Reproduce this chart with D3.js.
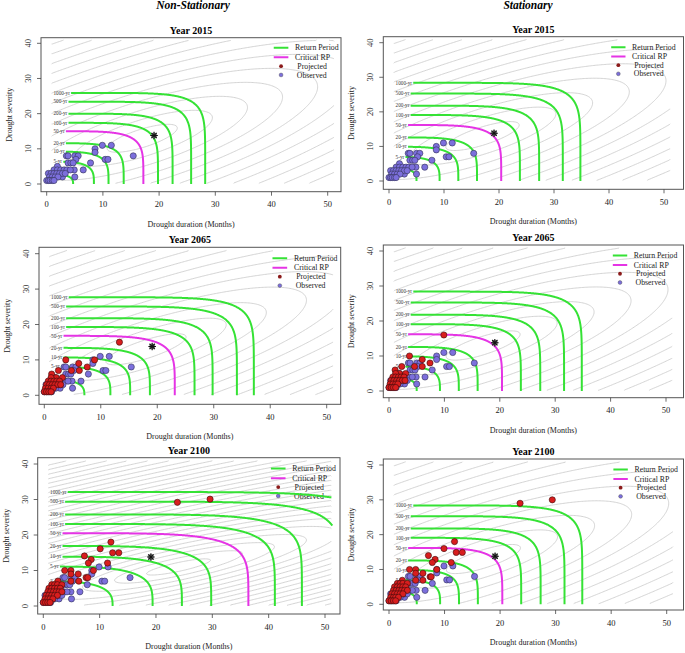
<!DOCTYPE html>
<html><head><meta charset="utf-8">
<script src="https://cdnjs.cloudflare.com/ajax/libs/d3/7.8.5/d3.min.js"></script>
<style>
body{margin:0;background:#fff}
svg{display:block}
text{font-family:"Liberation Serif","Times New Roman",serif}
</style>
</head><body>
<svg id="c" width="685" height="653"></svg>
<script>
// ---------------- DATA ----------------
const columnTitles = ["Non-Stationary", "Stationary"];
const years = ["2015", "2065", "2100"];
const xTicks = [0, 10, 20, 30, 40, 50];
const yTicks = [0, 10, 20, 30, 40];
const rpLabels = ["2-yr", "5-yr", "10-yr", "20-yr", "50-yr", "100-yr", "200-yr", "500-yr", "1000-yr"];
const rpYears = [2, 5, 10, 20, 50, 100, 200, 500, 1000];
const criticalRP = "50-yr";
const legendLabels = ["Return Period", "Critical RP", "Projected", "Observed"];

// severity (flat part) and duration (vertical part) of each return-period curve
const nsSev2015 = [2.8, 6.4, 9.2, 11.6, 15.0, 17.4, 20.0, 23.4, 25.9];
const nsDur2015 = [4.7, 8.4, 11.0, 13.7, 17.2, 19.8, 22.4, 25.7, 28.2];
const nsSev2065 = [4.5, 8.1, 10.7, 13.4, 16.8, 19.3, 21.8, 25.1, 27.7];
const nsDur2065 = [7.1, 11.7, 15.2, 18.7, 23.1, 26.6, 29.8, 34.1, 37.1];
const nsSev2100 = [7.0, 11.1, 13.9, 16.9, 20.5, 23.1, 25.8, 29.4, 32.1];
const nsDur2100 = [12.3, 19.4, 24.6, 29.8, 36.4, 41.1, 45.9, 52.7, 60.3];
const stSev = [3.8, 7.0, 9.9, 12.6, 16.2, 19.1, 21.8, 25.3, 28.4];
const stDur = [5.0, 9.2, 12.6, 16.0, 20.4, 23.8, 27.3, 31.6, 34.8];

const criticalEvent = [19.1, 13.8];

// observed drought events [duration, severity]
const observed = [
  [9.9,11],[11.5,11],[8.6,10],[8.6,9],[15.4,8],[3.5,8],[3.8,8],[5.0,8],[5.6,8],[5.2,7],
  [10.4,7],[10.9,7],[7.8,6],[3.8,6],[4.3,6],[4.7,6],[6.5,4],[4.9,4],[5.0,2],[2.8,2],
  [1.9,5],[1.3,4],[1.9,4],[2.5,4],[3.1,4],[3.6,4],[4.2,4],
  [0.3,3],[0.8,3],[1.3,3],[1.8,3],[2.3,3],[2.8,3],[3.3,3],
  [0.5,2],[1.0,2],[1.5,2],[2.0,2],
  [0.0,1],[0.3,1],[0.6,1],[1.0,1],[1.3,1]
];
// projected drought events [duration, severity]
const projNS2015 = [];
const projST2015 = [];
const projNS2065 = [
  [13.3,15],[3.8,10],[8.9,10],[6.1,9],[7.6,8],[4.8,7],[6.2,7],[2.5,7],[1.3,6],[2.1,5],[3.2,5],[1.2,5],
  [0.7,4],[1.2,4],[1.7,4],[2.2,4],[2.7,4],
  [0.4,3],[0.9,3],[1.4,3],[1.9,3],[2.4,3],[2.9,3],
  [0.2,2],[0.7,2],[1.2,2],[1.6,2],
  [0.0,1],[0.4,1],[0.8,1],[1.2,1]
];
const projST2065 = [
  [9.9,16],[3.7,10],[6.0,9],[7.4,8],[6.0,7],[4.6,7],[2.3,7],[1.1,6],[1.9,5],[3.0,5],[1.2,5],
  [0.7,4],[1.2,4],[1.7,4],[2.2,4],[2.7,4],
  [0.4,3],[0.9,3],[1.4,3],[1.9,3],[2.4,3],[2.9,3],
  [0.2,2],[0.7,2],[1.2,2],[1.6,2],
  [0.0,1],[0.4,1],[0.8,1],[1.2,1]
];
const projNS2100 = [
  [23.8,29.2],[29.6,30.1],[12.0,18],[10.1,16.1],[12.3,15],[13.4,15],[7.3,14.1],[8.5,13.1],[8.0,12.1],[11.4,12.1],
  [3.8,10],[4.9,10],[8.9,10],[4.9,9],[6.2,9],[7.6,8],[7.9,8],[4.9,7],[6.3,7],[2.6,7],
  [1.5,6],[2.0,6],[2.5,6],[3.3,6],
  [1.0,5],[1.5,5],[2.0,5],[2.5,5],[3.0,5],
  [0.8,4],[1.3,4],[1.8,4],[2.3,4],[2.8,4],[3.3,4],
  [0.5,3],[1.0,3],[1.5,3],[2.0,3],[2.5,3],
  [0.3,2],[0.8,2],[1.2,2],[1.7,2],
  [0.0,1],[0.4,1],[0.8,1],[1.2,1]
];
const projST2100 = [
  [23.6,29],[29.4,30],[11.8,18],[9.9,16],[12.1,14.9],[13.2,14.9],[7.1,14],[8.3,12.9],[7.8,12],[11.2,12],
  [3.7,10],[4.8,10],[8.6,10],[4.8,8.9],[6.1,8.9],[7.4,7.9],[7.6,7.9],[4.8,6.9],[6.1,6.9],[2.4,6.9],
  [1.5,6],[2.0,6],[2.5,6],[3.3,6],
  [1.0,5],[1.5,5],[2.0,5],[2.5,5],[3.0,5],
  [0.8,4],[1.3,4],[1.8,4],[2.3,4],[2.8,4],[3.3,4],
  [0.5,3],[1.0,3],[1.5,3],[2.0,3],[2.5,3],
  [0.3,2],[0.8,2],[1.2,2],[1.7,2],
  [0.0,1],[0.4,1],[0.8,1],[1.2,1]
];

// ---------------- LAYOUT ----------------
const panels = [
  {col:0, year:0, sev:nsSev2015, dur:nsDur2015, proj:projNS2015, box:[41,37.7,341,191.7], x0:46.7, x50:327.7, y0:184, y40:43.3,
   bg:{cx:17, cy:13, slope:0.55, a:7, b:2.4, rings:16}},
  {col:1, year:0, sev:stSev, dur:stDur, proj:projST2015, box:[383.3,36.7,683.5,189.3], x0:389, x50:664, y0:181, y40:42.7,
   bg:{cx:17, cy:13, slope:0.55, a:7.5, b:2.4, rings:16}},
  {col:0, year:1, sev:nsSev2065, dur:nsDur2065, proj:projNS2065, box:[39,247.3,340.7,404.3], x0:44.3, x50:326.7, y0:395.3, y40:253.7,
   bg:{cx:18, cy:13, slope:0.55, a:8, b:2.4, rings:16}},
  {col:1, year:1, sev:stSev, dur:stDur, proj:projST2065, box:[383.3,245,683.5,397.7], x0:389, x50:666, y0:391, y40:251,
   bg:{cx:17, cy:13, slope:0.55, a:7.5, b:2.4, rings:16}},
  {col:0, year:2, sev:nsSev2100, dur:nsDur2100, proj:projNS2100, box:[37.7,457.7,340,614], x0:43.3, x50:325, y0:606, y40:464,
   bg:{cx:24, cy:11, slope:0.35, a:6, b:1.2, rings:32}},
  {col:1, year:2, sev:stSev, dur:stDur, proj:projST2100, box:[383.3,459,683.5,610], x0:389, x50:666.7, y0:604.3, y40:465,
   bg:{cx:17, cy:13, slope:0.55, a:7.5, b:2.4, rings:16}}
];

const GREEN = "#35e235", MAGENTA = "#e534e5", RED = "#d81e1e", PURPLE = "#7c6fdc";
const svg = d3.select("#c");

svg.append("text").attr("x",193).attr("y",9).attr("text-anchor","middle")
  .attr("font-size",11.5).attr("font-weight","bold").attr("font-style","italic").text(columnTitles[0]);
svg.append("text").attr("x",528).attr("y",9).attr("text-anchor","middle")
  .attr("font-size",11.5).attr("font-weight","bold").attr("font-style","italic").text(columnTitles[1]);

function rpShape(T){ return 2.5 + 1.6*Math.log10(T); }

panels.forEach((P, pi) => {
  const [bl, bt, br, bb] = P.box;
  const xs = d3.scaleLinear().domain([0,50]).range([P.x0, P.x50]);
  const ys = d3.scaleLinear().domain([0,40]).range([P.y0, P.y40]);
  const g = svg.append("g");
  const clipId = "clip"+pi;
  svg.append("clipPath").attr("id",clipId).append("rect")
    .attr("x",bl).attr("y",bt).attr("width",br-bl).attr("height",bb-bt);
  const inner = g.append("g").attr("clip-path",`url(#${clipId})`);

  // --- background gray contours ---
  const bg = P.bg;
  const gx1=1, gx2=51, gy1=0.3, gy2=40.7, step=0.25;
  const n = Math.round((gx2-gx1)/step)+1, m = Math.round((gy2-gy1)/step)+1;
  const th = Math.atan(bg.slope), ct=Math.cos(th), st=Math.sin(th);
  const vals = new Float64Array(n*m);
  for (let j=0;j<m;j++){ const y=gy1+j*step;
    for (let i=0;i<n;i++){ const x=gx1+i*step;
      const dx=x-bg.cx, dy=y-bg.cy; const u=dx*ct+dy*st, v=-dx*st+dy*ct;
      vals[j*n+i] = -Math.sqrt((u/bg.a)**2 + (v/bg.b)**2);
    }}
  const thresholds = d3.range(1, bg.rings+1).map(k=>-k);
  const cont = d3.contours().size([n,m]).thresholds(thresholds)(vals);
  const X = p => xs(gx1 + (p[0]-0.5)*step), Y = p => ys(gy1 + (p[1]-0.5)*step);
  const onB = p => p[0]<=1e-6 || p[0]>=n-1e-6 || p[1]<=1e-6 || p[1]>=m-1e-6;
  cont.forEach(c => {
    let d = "";
    c.coordinates.forEach(poly => poly.forEach(ring => {
      let pen=false;
      for (let k=0;k<ring.length-1;k++){
        const p=ring[k], q=ring[k+1];
        if (onB(p) && onB(q)) { pen=false; continue; }
        if (!pen){ d += `M${X(p).toFixed(2)},${Y(p).toFixed(2)}`; pen=true; }
        d += `L${X(q).toFixed(2)},${Y(q).toFixed(2)}`;
      }
    }));
    inner.append("path").attr("d",d).attr("fill","none").attr("stroke","#c9c9c9").attr("stroke-width",0.8);
  });

  // --- legend (drawn beneath curves) ---
  const lgY = [38.7, 36.0, 33.5, 31.0];
  inner.append("line").attr("x1",xs(40.4)).attr("x2",xs(43.0)).attr("y1",ys(lgY[0])).attr("y2",ys(lgY[0]))
    .attr("stroke",GREEN).attr("stroke-width",2);
  inner.append("line").attr("x1",xs(40.4)).attr("x2",xs(43.0)).attr("y1",ys(lgY[1])).attr("y2",ys(lgY[1]))
    .attr("stroke",MAGENTA).attr("stroke-width",2);
  inner.append("circle").attr("cx",xs(41.7)).attr("cy",ys(lgY[2])).attr("r",1.9).attr("fill","#8b1a1a");
  inner.append("circle").attr("cx",xs(41.7)).attr("cy",ys(lgY[3])).attr("r",1.9).attr("fill",PURPLE).attr("stroke","#444").attr("stroke-width",0.4);
  const lgX = [44.2, 44.2, 44.6, 44.5];
  legendLabels.forEach((t,i)=>{
    inner.append("text").attr("x",xs(lgX[i])).attr("y",ys(lgY[i])).attr("dy","0.33em")
      .attr("font-size",7.8).attr("fill","#222").text(t);
  });

  // --- return period curves and labels ---
  const line = d3.line().x(d=>xs(d[0])).y(d=>ys(d[1]));
  rpLabels.forEach((lab, k) => {
    const S = P.sev[k], D = P.dur[k], p = rpShape(rpYears[k]);
    const tx = inner.append("text").attr("x",xs(1.2)).attr("y",ys(S)).attr("dy","0.33em")
      .attr("font-size",5.2).attr("fill","#333").text(lab);
    const w = tx.node().getComputedTextLength();
    const xStart = xs.invert(xs(1.2) + w + 1.2);
    const xc = D*Math.pow(0.5, 1/p), yc = S*Math.pow(0.5, 1/p);
    const pts = [];
    const N = 300;
    for (let i=0;i<=N;i++){
      const x = xStart + (xc - xStart)*i/N;
      pts.push([x, S*Math.pow(Math.max(0, 1-Math.pow(x/D,p)), 1/p)]);
    }
    for (let i=1;i<=N;i++){
      const y = yc*(1-i/N);
      pts.push([D*Math.pow(Math.max(0, 1-Math.pow(y/S,p)), 1/p), y]);
    }
    const vis = pts.filter(d => d[0] <= 51.3);
    inner.append("path").attr("d",line(vis)).attr("fill","none")
      .attr("stroke", lab===criticalRP ? MAGENTA : GREEN).attr("stroke-width",2);
  });

  // --- points ---
  inner.selectAll(null).data(observed).enter().append("circle")
    .attr("cx",d=>xs(d[0])).attr("cy",d=>ys(d[1])).attr("r",3.1)
    .attr("fill",PURPLE).attr("stroke","#333355").attr("stroke-width",0.6);
  inner.selectAll(null).data(P.proj).enter().append("circle")
    .attr("cx",d=>xs(d[0])).attr("cy",d=>ys(d[1])).attr("r",3.1)
    .attr("fill",RED).attr("stroke","#3a0a0a").attr("stroke-width",0.6);

  // --- critical event star ---
  const sx = xs(criticalEvent[0]), sy = ys(criticalEvent[1]);
  inner.append("circle").attr("cx",sx).attr("cy",sy).attr("r",3).attr("fill","#888");
  [0,45,90,135].forEach(a=>{
    const r=3.8, rad=a*Math.PI/180;
    inner.append("line").attr("x1",sx-r*Math.cos(rad)).attr("y1",sy-r*Math.sin(rad))
      .attr("x2",sx+r*Math.cos(rad)).attr("y2",sy+r*Math.sin(rad))
      .attr("stroke","#111").attr("stroke-width",1.1);
  });

  // --- box & axes ---
  g.append("rect").attr("x",bl).attr("y",bt).attr("width",br-bl).attr("height",bb-bt)
    .attr("fill","none").attr("stroke","#555").attr("stroke-width",1);
  xTicks.forEach(v=>{
    g.append("line").attr("x1",xs(v)).attr("x2",xs(v)).attr("y1",bb).attr("y2",bb+4).attr("stroke","#444").attr("stroke-width",0.8);
    g.append("text").attr("x",xs(v)).attr("y",bb+15.5).attr("text-anchor","middle").attr("font-size",8.5).attr("fill","#222").text(v);
  });
  yTicks.forEach(v=>{
    g.append("line").attr("x1",bl-4).attr("x2",bl).attr("y1",ys(v)).attr("y2",ys(v)).attr("stroke","#444").attr("stroke-width",0.8);
    g.append("text").attr("transform",`translate(${bl-10},${ys(v)}) rotate(-90)`).attr("text-anchor","middle")
      .attr("font-size",8.5).attr("fill","#222").text(v);
  });
  g.append("text").attr("x",(bl+br)/2).attr("y",bt-4).attr("text-anchor","middle")
    .attr("font-size",10).attr("font-weight","bold").text("Year " + years[P.year]);
  g.append("text").attr("x",(bl+br)/2).attr("y",bb+35).attr("text-anchor","middle")
    .attr("font-size",8).attr("fill","#222").text("Drought duration (Months)");
  g.append("text").attr("transform",`translate(${bl-29},${(bt+bb)/2}) rotate(-90)`).attr("text-anchor","middle")
    .attr("font-size",8).attr("fill","#222").text("Drought severity");
});
</script>
</body></html>
